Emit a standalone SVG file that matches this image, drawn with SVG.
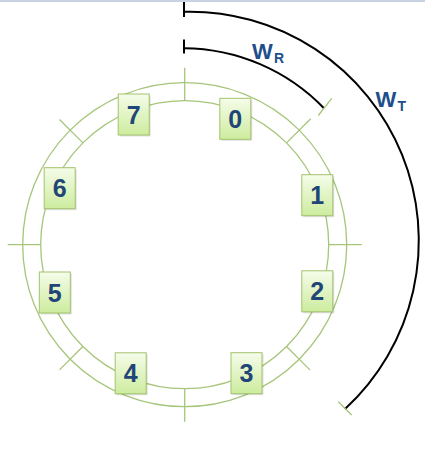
<svg xmlns="http://www.w3.org/2000/svg" width="425" height="457" viewBox="0 0 425 457">
<defs>
<linearGradient id="g" x1="0" y1="0" x2="0" y2="1">
<stop offset="0" stop-color="#f5fcea"/>
<stop offset="1" stop-color="#cdec9e"/>
</linearGradient>
<style>
.ring{fill:none;stroke:#a6c57a;stroke-width:1.3}
.tick{stroke:#a6c57a;stroke-width:1.3}
.arc{fill:none;stroke:#000;stroke-width:2}
.bar{stroke:#000;stroke-width:2}
.box{fill:url(#g);stroke:#a3c36c;stroke-width:1}
.sh{fill:#000;opacity:0.12}
.num{font-family:"Liberation Sans",Arial,sans-serif;font-weight:bold;font-size:25px;fill:#1f4677;text-anchor:middle}
.lbl{font-family:"Liberation Sans",Arial,sans-serif;font-weight:bold;fill:#1f4e8c}
</style>
</defs>
<rect width="425" height="457" fill="#fff"/>
<rect x="0" y="0" width="425" height="2" fill="#c8d2e0"/>
<g id="ring">
<circle class="ring" cx="184.7" cy="244.7" r="162"/>
<circle class="ring" cx="184.7" cy="244.7" r="144"/>
<g transform="translate(184.7,244.7)">
<line class="tick" x1="0" y1="-144" x2="0" y2="-177"/>
<line class="tick" x1="0" y1="144" x2="0" y2="177"/>
<line class="tick" x1="-144" y1="0" x2="-177" y2="0"/>
<line class="tick" x1="144" y1="0" x2="177" y2="0"/>
<line class="tick" x1="101.8" y1="-101.8" x2="126" y2="-126"/>
<line class="tick" x1="-101.8" y1="-101.8" x2="-125.2" y2="-125.2"/>
<line class="tick" x1="101.8" y1="101.8" x2="125.2" y2="125.2"/>
<line class="tick" x1="-101.8" y1="101.8" x2="-125.2" y2="125.2"/>
</g>
</g>
<g id="connectors">
<path id="wr-arc" class="arc" d="M184,48.3 A196.5,196.5 0 0 1 324,108.3"/>
<line class="bar" x1="184" y1="39.5" x2="184" y2="53.5"/>
<line class="tick" x1="318.3" y1="115.5" x2="331.7" y2="98.3"/>
<path id="wt-arc" class="arc" d="M184,11.7 A229,229 0 0 1 345,409"/>
<line class="bar" x1="184" y1="2" x2="184" y2="17"/>
<line class="tick" x1="338.3" y1="401.7" x2="351.7" y2="415"/>
</g>
<g id="labels">
<text class="lbl" x="252" y="58.8" font-size="22">W</text>
<text class="lbl" x="274" y="63" font-size="14">R</text>
<text class="lbl" x="375.5" y="107" font-size="22">W</text>
<text class="lbl" x="397.5" y="111.3" font-size="14">T</text>
</g>
<g id="node0"><rect class="sh" x="221.3" y="99.8" width="31" height="41"/><rect class="box" x="219.8" y="98.3" width="31" height="41"/><text class="num" x="235.3" y="127.8">0</text></g>
<g id="node1"><rect class="sh" x="303.3" y="176.2" width="31" height="41"/><rect class="box" x="301.8" y="174.7" width="31" height="41"/><text class="num" x="317.3" y="204.2">1</text></g>
<g id="node2"><rect class="sh" x="303.3" y="272.3" width="31" height="41"/><rect class="box" x="301.8" y="270.8" width="31" height="41"/><text class="num" x="317.3" y="300.3">2</text></g>
<g id="node3"><rect class="sh" x="232.5" y="354.2" width="31" height="41"/><rect class="box" x="231" y="352.7" width="31" height="41"/><text class="num" x="246.5" y="382.2">3</text></g>
<g id="node4"><rect class="sh" x="116.7" y="354.3" width="31" height="41"/><rect class="box" x="115.2" y="352.8" width="31" height="41"/><text class="num" x="130.7" y="382.3">4</text></g>
<g id="node5"><rect class="sh" x="40.8" y="273.5" width="31" height="41"/><rect class="box" x="39.3" y="272" width="31" height="41"/><text class="num" x="54.8" y="301.5">5</text></g>
<g id="node6"><rect class="sh" x="45.7" y="169.2" width="31" height="41"/><rect class="box" x="44.2" y="167.7" width="31" height="41"/><text class="num" x="59.7" y="197.2">6</text></g>
<g id="node7"><rect class="sh" x="119.7" y="95.5" width="31" height="41"/><rect class="box" x="118.2" y="94" width="31" height="41"/><text class="num" x="133.7" y="123.5">7</text></g>
</svg>
